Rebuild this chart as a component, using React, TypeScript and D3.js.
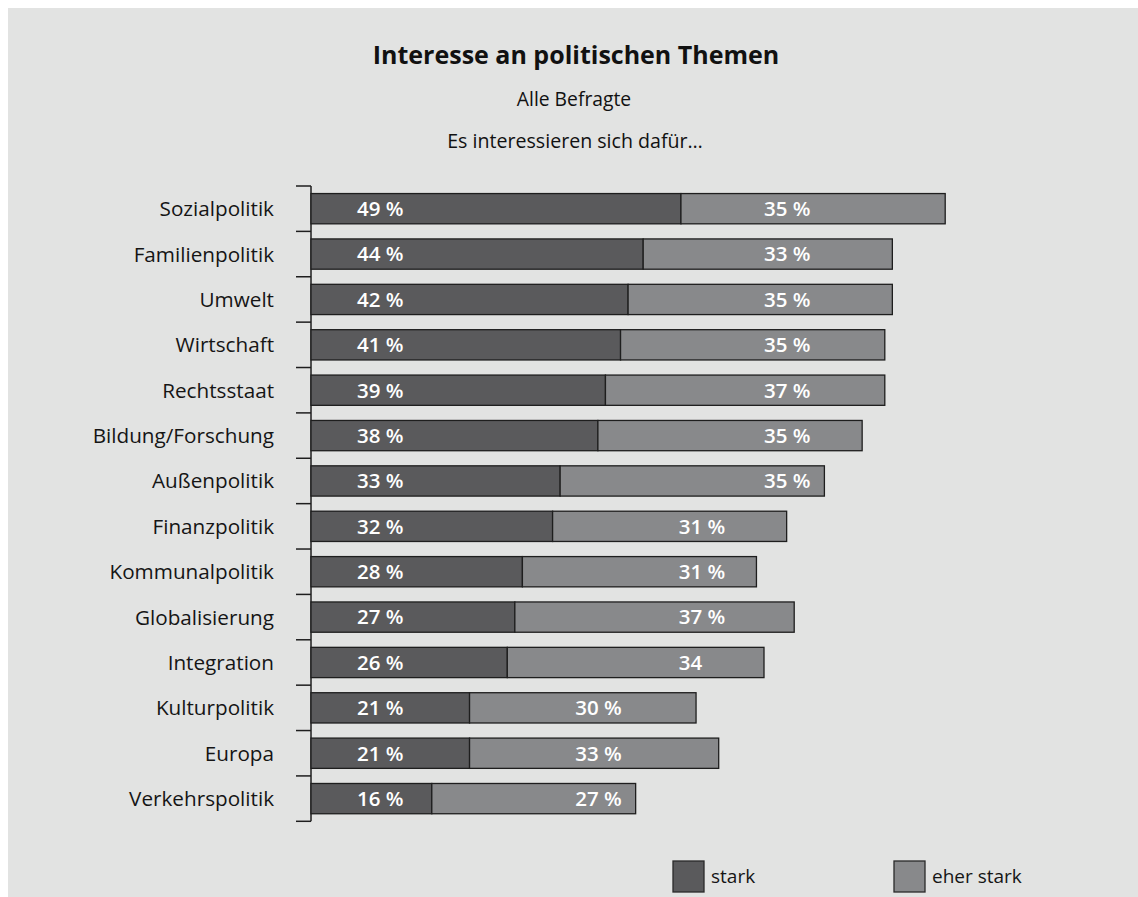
import React from "react";
import * as d3 from "d3";

const categories = [
  "Sozialpolitik",
  "Familienpolitik",
  "Umwelt",
  "Wirtschaft",
  "Rechtsstaat",
  "Bildung/Forschung",
  "Außenpolitik",
  "Finanzpolitik",
  "Kommunalpolitik",
  "Globalisierung",
  "Integration",
  "Kulturpolitik",
  "Europa",
  "Verkehrspolitik",
];
const stark = [49, 44, 42, 41, 39, 38, 33, 32, 28, 27, 26, 21, 21, 16];
const eherStark = [35, 33, 35, 35, 37, 35, 35, 31, 31, 37, 34, 30, 33, 27];
// label text for the "eher stark" segment (one label in the source lacks the % sign)
const eherLabels = ["35 %", "33 %", "35 %", "35 %", "37 %", "35 %", "35 %", "31 %", "31 %", "37 %", "34", "30 %", "33 %", "27 %"];
// label anchor column (in percent units of the value axis) for the "eher stark" labels
const eherLabelAt = [60, 60, 60, 60, 60, 60, 60, 48.7, 48.7, 48.7, 48.7, 35, 35, 35];
const seriesNames = ["stark", "eher stark"];
const colors = ["#5a5a5c", "#88898b"];

const W = 1150;
const H = 900;
const FONT = "'Open Sans', Lato, sans-serif";

export default function App() {
  // page coordinates -> svg coordinates offset by body margin
  const off = 8;
  const x = d3.scaleLinear().domain([0, 100]).range([311 - off, 311 - off + 755]);
  const y = d3
    .scaleBand<string>()
    .domain(categories)
    .range([186 - off, 821.3 - off])
    .paddingInner(0.333)
    .paddingOuter(0.1665);
  const step = y.step();
  const x0 = x(0);
  const tickYs = d3.range(categories.length + 1).map((i) => (186 - off) + i * step);
  const fmt = (v: number) => `${v} %`;

  return (
    <>
      <style>{`html,body{overflow:hidden;}`}</style>
      <svg
        width={W}
        height={H}
        style={{ display: "block", position: "fixed", left: 8, top: 8 }}
        fontFamily={FONT}
      >
        <rect x={0} y={0} width={W} height={H} fill="#e2e3e2" />
        <text x={576 - off} y={64 - off} textAnchor="middle" fontSize={25} fontWeight={700} fill="#111">
          Interesse an politischen Themen
        </text>
        <text x={574 - off} y={106 - off} textAnchor="middle" fontSize={19.3} fill="#111">
          Alle Befragte
        </text>
        <text x={575 - off} y={148 - off} textAnchor="middle" fontSize={19.6} fill="#111">
          Es interessieren sich dafür…
        </text>

        {/* axis */}
        <line x1={x0} x2={x0} y1={tickYs[0]} y2={tickYs[tickYs.length - 1]} stroke="#1e1e1e" strokeWidth={1.5} />
        {tickYs.map((ty, i) => (
          <line key={i} x1={x0 - 15} x2={x0} y1={ty} y2={ty} stroke="#1e1e1e" strokeWidth={1.5} />
        ))}

        {categories.map((c, i) => {
          const by = y(c)!;
          const bh = y.bandwidth();
          const cy = by + bh / 2;
          const s = stark[i];
          const e = eherStark[i];
          return (
            <g key={c}>
              <text x={274 - off} y={cy} dy="0.36em" textAnchor="end" fontSize={20.7} fill="#151515">
                {c}
              </text>
              <rect x={x(0)} y={by} width={x(s) - x(0)} height={bh} fill={colors[0]} stroke="#1e1e1e" strokeWidth={1.3} />
              <rect x={x(s)} y={by} width={x(s + e) - x(s)} height={bh} fill={colors[1]} stroke="#1e1e1e" strokeWidth={1.3} />
              <text x={x0 + 46} y={cy} dy="0.36em" fontSize={20.5} fontWeight={600} fill="#fff">
                {fmt(s)}
              </text>
              <text x={x(eherLabelAt[i])} y={cy} dy="0.36em" fontSize={20.5} fontWeight={600} fill="#fff">
                {eherLabels[i]}
              </text>
            </g>
          );
        })}

        {/* legend */}
        {seriesNames.map((n, i) => {
          const lx = (i === 0 ? 673 : 894) - off;
          return (
            <g key={n}>
              <rect x={lx} y={861 - off} width={31} height={31} fill={colors[i]} stroke="#2a2a2a" strokeWidth={1.3} />
              <text x={lx + 38} y={883 - off} fontSize={19} fill="#151515">
                {n}
              </text>
            </g>
          );
        })}
      </svg>
    </>
  );
}
